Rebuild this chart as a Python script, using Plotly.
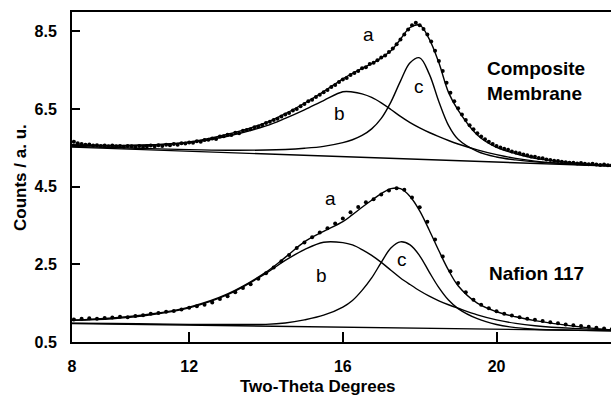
import plotly.graph_objects as go

# ---------------- data ----------------
X_FIT = [8.95, 10, 11, 12, 13, 14, 14.5, 15, 15.5, 16, 16.25, 16.5, 16.75, 17,
         17.25, 17.5, 17.75, 18, 18.25, 18.5, 18.75, 19, 19.5, 20, 20.5, 21, 22, 23]

# Composite membrane (upper pattern)
TOP_BASE_X = [8.95, 23.0]
TOP_BASE_Y = [5.52, 5.03]
TOP_B = [5.56, 5.555, 5.57, 5.635, 5.80, 6.065, 6.26, 6.48, 6.72, 6.945, 6.94, 6.89, 6.80, 6.66,
         6.49, 6.31, 6.15, 6.015, 5.896, 5.79, 5.69, 5.60, 5.45, 5.325, 5.23, 5.16, 5.085, 5.04]
TOP_C = [5.54, 5.51, 5.48, 5.455, 5.44, 5.445, 5.46, 5.49, 5.54, 5.635, 5.71, 5.82, 5.99, 6.26,
         6.68, 7.22, 7.69, 7.82, 7.40, 6.69, 6.08, 5.72, 5.41, 5.265, 5.19, 5.14, 5.08, 5.035]
TOP_A = [5.58, 5.56, 5.58, 5.65, 5.85, 6.15, 6.38, 6.65, 6.95, 7.28, 7.42, 7.55, 7.67, 7.82,
         8.00, 8.30, 8.60, 8.66, 8.30, 7.69, 6.93, 6.47, 5.83, 5.51, 5.35, 5.23, 5.115, 5.05]

TOP_DATA_X = [round(9.0 + 0.1 * i, 2) for i in range(141)]
TOP_DATA_Y = [
    5.66, 5.62, 5.60, 5.58, 5.59, 5.56, 5.57, 5.55, 5.56, 5.54,
    5.56, 5.54, 5.55, 5.53, 5.55, 5.54, 5.52, 5.55, 5.53, 5.54,
    5.56, 5.54, 5.57, 5.55, 5.58, 5.57, 5.60, 5.58, 5.62, 5.61,
    5.64, 5.63, 5.67, 5.66, 5.70, 5.71, 5.74, 5.73, 5.79, 5.80,
    5.84, 5.83, 5.89, 5.88, 5.94, 5.96, 5.98, 6.03, 6.05, 6.09,
    6.14, 6.17, 6.22, 6.25, 6.31, 6.36, 6.40, 6.46, 6.50, 6.57,
    6.63, 6.70, 6.74, 6.81, 6.87, 6.93, 6.99, 7.07, 7.12, 7.20,
    7.26, 7.30, 7.38, 7.43, 7.48, 7.55, 7.58, 7.66, 7.69, 7.76,
    7.83, 7.88, 7.97, 8.06, 8.17, 8.29, 8.42, 8.55, 8.66, 8.72,
    8.66, 8.56, 8.42, 8.24, 8.00, 7.74, 7.48, 7.18, 6.92, 6.70,
    6.52, 6.36, 6.22, 6.08, 5.98, 5.88, 5.79, 5.72, 5.66, 5.60,
    5.55, 5.51, 5.48, 5.45, 5.41, 5.38, 5.36, 5.33, 5.31, 5.28,
    5.27, 5.24, 5.23, 5.20, 5.19, 5.17, 5.16, 5.14, 5.13, 5.12,
    5.12, 5.10, 5.11, 5.09, 5.08, 5.09, 5.07, 5.06, 5.07, 5.05,
    5.05]

# Nafion 117 (lower pattern)
BOT_BASE_X = [8.95, 23.0]
BOT_BASE_Y = [0.975, 0.79]
BOT_B = [1.06, 1.10, 1.20, 1.38, 1.72, 2.27, 2.60, 2.88, 3.07, 3.06, 3.00, 2.88, 2.73, 2.55,
         2.35, 2.15, 1.98, 1.82, 1.68, 1.56, 1.46, 1.37, 1.20, 1.07, 0.98, 0.92, 0.85, 0.81]
BOT_C = [0.985, 0.975, 0.965, 0.955, 0.95, 0.955, 0.99, 1.07, 1.19, 1.40, 1.57, 1.83, 2.15, 2.55,
         2.92, 3.08, 3.00, 2.72, 2.30, 1.90, 1.58, 1.36, 1.10, 0.95, 0.87, 0.83, 0.805, 0.79]
BOT_A = [1.06, 1.12, 1.22, 1.40, 1.74, 2.30, 2.68, 3.08, 3.35, 3.60, 3.78, 3.97, 4.15, 4.32,
         4.45, 4.45, 4.25, 3.88, 3.38, 2.85, 2.35, 1.95, 1.50, 1.28, 1.15, 1.05, 0.91, 0.81]

BOT_DATA_X = [round(9.0 + 0.2 * i, 2) for i in range(71)]
BOT_DATA_Y = [
    1.08, 1.10, 1.11, 1.10, 1.12, 1.13, 1.15, 1.14, 1.17, 1.19,
    1.23, 1.25, 1.28, 1.30, 1.34, 1.38, 1.42, 1.46, 1.52, 1.61,
    1.68, 1.78, 1.89, 1.99, 2.13, 2.27, 2.42, 2.58, 2.74, 2.92,
    3.06, 3.20, 3.32, 3.43, 3.55, 3.68, 3.84, 3.98, 4.10, 4.18,
    4.30, 4.40, 4.46, 4.42, 4.22, 3.97, 3.60, 3.14, 2.70, 2.32,
    2.02, 1.78, 1.59, 1.46, 1.37, 1.29, 1.23, 1.18, 1.14, 1.10,
    1.07, 1.04, 1.01, 0.98, 0.95, 0.93, 0.91, 0.89, 0.87, 0.85,
    0.83]

X_TICKS = [8.95, 12, 16, 20]
X_TICK_TEXT = ["8", "12", "16", "20"]
Y_TICKS = [0.5, 2.5, 4.5, 6.5, 8.5]
Y_TICK_TEXT = ["0.5", "2.5", "4.5", "6.5", "8.5"]

# ---------------- figure ----------------
FONT = "Liberation Sans, Arial, Helvetica, sans-serif"
fig = go.Figure()

def line(x, y):
    fig.add_trace(go.Scatter(x=x, y=y, mode="lines", showlegend=False, hoverinfo="skip",
                             line=dict(color="black", width=1.4, shape="spline", smoothing=1.0)))

def dots(x, y, size):
    fig.add_trace(go.Scatter(x=x, y=y, mode="markers", showlegend=False,
                             marker=dict(color="black", size=size, line=dict(width=0))))

for base_x, base_y, b, c, a in [(TOP_BASE_X, TOP_BASE_Y, TOP_B, TOP_C, TOP_A),
                                (BOT_BASE_X, BOT_BASE_Y, BOT_B, BOT_C, BOT_A)]:
    fig.add_trace(go.Scatter(x=base_x, y=base_y, mode="lines", showlegend=False,
                             line=dict(color="black", width=1.4)))
    line(X_FIT, b)
    line(X_FIT, c)
    line(X_FIT, a)

dots(TOP_DATA_X, TOP_DATA_Y, 4)
dots(BOT_DATA_X, BOT_DATA_Y, 4)

labels = [
    (16.68, 8.43, "a"), (15.92, 6.39, "b"), (17.99, 7.07, "c"),
    (15.67, 4.20, "a"), (15.44, 2.22, "b"), (17.55, 2.63, "c"),
]
for x, y, t in labels:
    fig.add_annotation(x=x, y=y, text=t, showarrow=False, xanchor="center", yanchor="middle",
                       font=dict(family=FONT, size=19, color="black"))

fig.add_annotation(x=19.70, y=7.22, text="Composite<br>Membrane", showarrow=False,
                   xanchor="left", yanchor="middle", align="left",
                   font=dict(family=FONT, size=19, color="black", weight="bold"))
fig.add_annotation(x=19.74, y=2.27, text="Nafion 117", showarrow=False,
                   xanchor="left", yanchor="middle", align="left",
                   font=dict(family=FONT, size=19, color="black", weight="bold"))

# axis titles
fig.add_annotation(xref="paper", yref="paper", x=0.456, y=-0.134, text="Two-Theta Degrees",
                   showarrow=False, xanchor="center", yanchor="middle",
                   font=dict(family=FONT, size=17, color="black", weight="bold"))
fig.add_annotation(xref="paper", yref="paper", x=-0.0965, y=0.5, text="Counts / a. u.",
                   textangle=-90, showarrow=False, xanchor="center", yanchor="middle",
                   font=dict(family=FONT, size=17, color="black", weight="bold"))

fig.update_layout(
    width=611, height=397,
    margin=dict(l=72, r=0, t=12, b=55),
    paper_bgcolor="white", plot_bgcolor="white",
    font=dict(family=FONT, color="black"),
    showlegend=False,
    xaxis=dict(range=[8.95, 22.98], tickvals=X_TICKS, ticktext=X_TICK_TEXT,
               ticks="inside", ticklen=10, tickwidth=1.5, tickcolor="black",
               showline=True, linewidth=2, linecolor="black", mirror=True,
               showgrid=False, zeroline=False, ticklabelstandoff=9,
               tickfont=dict(family=FONT, size=16, color="black", weight="bold")),
    yaxis=dict(range=[0.5, 9.0], tickvals=Y_TICKS, ticktext=Y_TICK_TEXT,
               ticks="inside", ticklen=8, tickwidth=1.5, tickcolor="black",
               showline=True, linewidth=2, linecolor="black",
               showgrid=False, zeroline=False, ticklabelstandoff=10,
               tickfont=dict(family=FONT, size=16, color="black", weight="bold")),
)

fig.write_html("out.html")
